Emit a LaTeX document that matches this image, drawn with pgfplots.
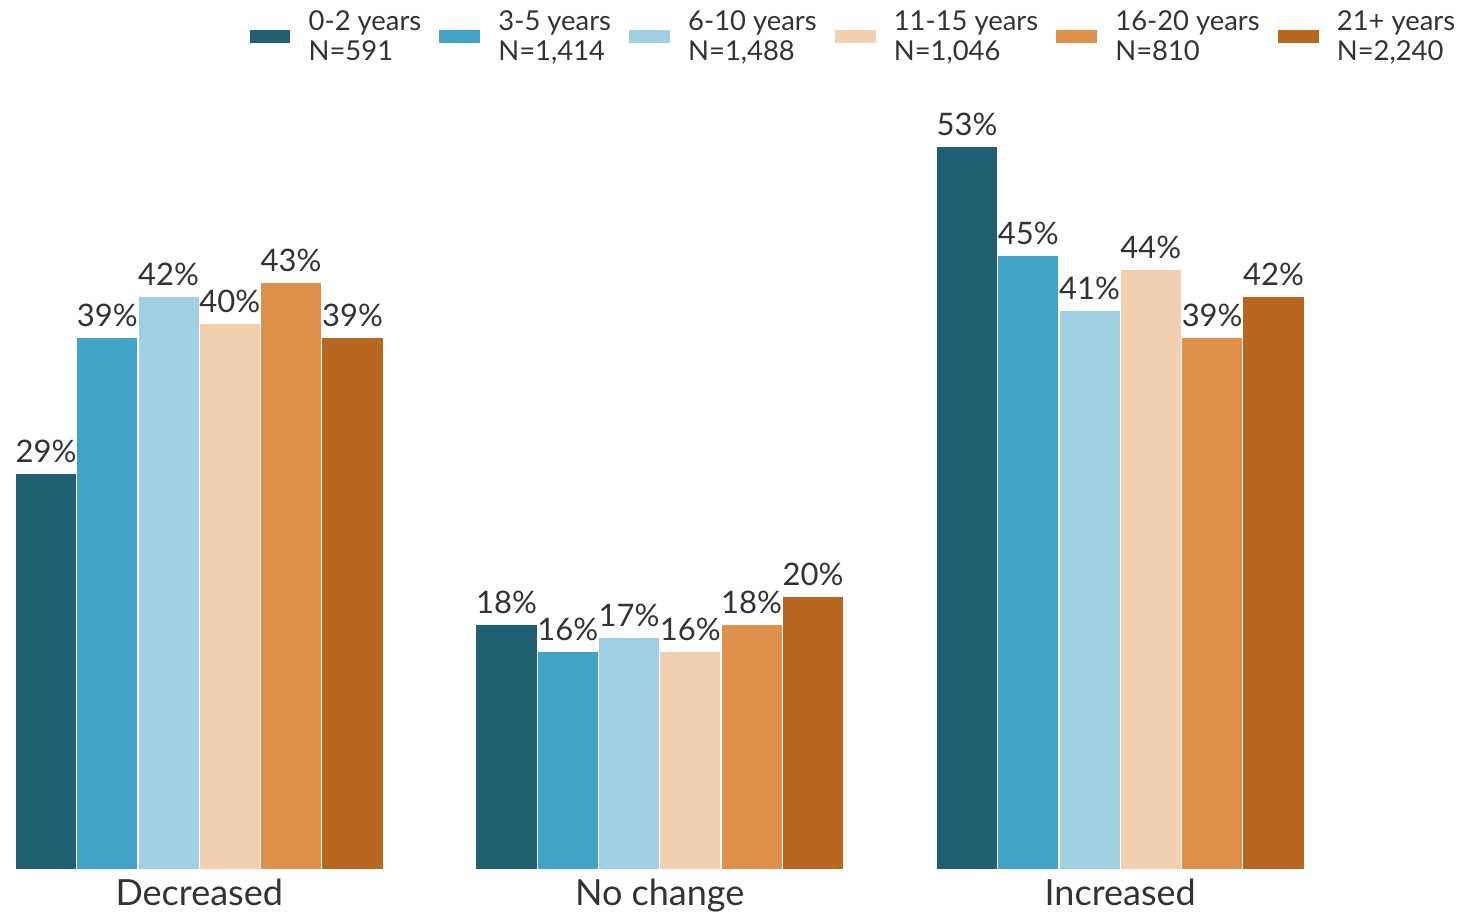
\documentclass[border=0pt]{standalone}
\usepackage{pgfplots}
\pgfplotsset{compat=1.18}
\usepackage{fontspec}
\setmainfont{Lato}
\definecolor{c1}{HTML}{215F73}
\definecolor{c2}{HTML}{42A2C8}
\definecolor{c3}{HTML}{A0D0E3}
\definecolor{c4}{HTML}{F1CFAF}
\definecolor{c5}{HTML}{DE904A}
\definecolor{c6}{HTML}{B96720}
\definecolor{txt}{HTML}{333333}
\begin{document}
\begin{tikzpicture}
\begin{axis}[
  at={(0pt,0pt)}, anchor=south west,
  scale only axis, width=644.7pt, height=409.8pt,
  xmin=-0.4, xmax=2.4, ymin=0, ymax=60,
  axis line style={draw=none},
  ytick=\empty,
  xtick={0,1,2},
  xticklabels={Decreased,No change,Increased},
  major tick length=0pt,
  /pgf/number format/assume math mode=true,
  ybar=0pt, bar width=30.65pt,
  every axis plot/.append style={draw=white, line width=0.6pt},
  nodes near coords={\pgfmathprintnumber{\pgfplotspointmeta}\%},
  nodes near coords style={font=\fontsize{15.5}{18}\selectfont, text=txt, inner sep=2pt, yshift=3pt},
  xticklabel style={font=\fontsize{18}{20}\selectfont, text=txt, inner sep=2pt, yshift=-2.5pt},
  clip=false,
  legend columns=6,
  legend image code/.code={\fill[#1] (0pt,-3.5pt) rectangle (21pt,3.5pt);},
  legend style={at={(0.1761,1.0591)}, anchor=north west, draw=none, fill=none,
    font=\fontsize{13.7}{15}\selectfont, text=txt,
    cells={align=left, anchor=west},
    /tikz/every odd column/.append style={column sep=6.5pt},
    /tikz/every even column/.append style={column sep=6.5pt}},
]
\addplot[fill=c1] coordinates {(0,29) (1,18) (2,53)};
\addlegendentry{0-2 years\\N=591}
\addplot[fill=c2] coordinates {(0,39) (1,16) (2,45)};
\addlegendentry{3-5 years\\N=1,414}
\addplot[fill=c3] coordinates {(0,42) (1,17) (2,41)};
\addlegendentry{6-10 years\\N=1,488}
\addplot[fill=c4] coordinates {(0,40) (1,16) (2,44)};
\addlegendentry{11-15 years\\N=1,046}
\addplot[fill=c5] coordinates {(0,43) (1,18) (2,39)};
\addlegendentry{16-20 years\\N=810}
\addplot[fill=c6] coordinates {(0,39) (1,20) (2,42)};
\addlegendentry{21+ years\\N=2,240}
\end{axis}
\pgfresetboundingbox
\useasboundingbox (-7.5pt,-21pt) rectangle (721.5pt,435pt);
\end{tikzpicture}
\end{document}
